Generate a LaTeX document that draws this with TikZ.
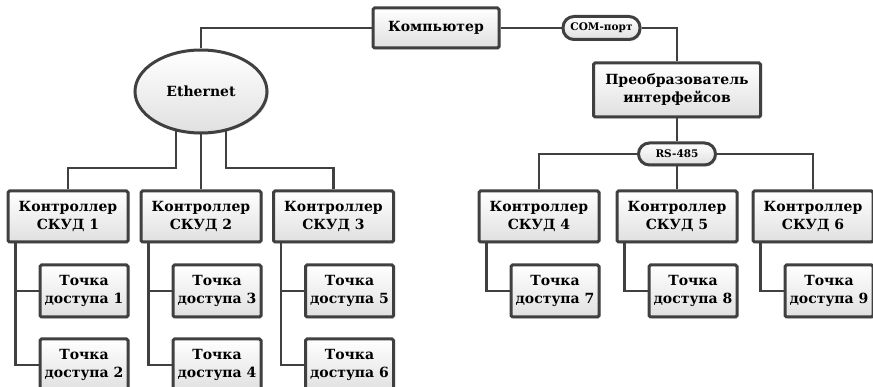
\documentclass[tikz,border=0pt]{standalone}
\usepackage{fontspec}
\setmainfont{DejaVu Serif}
\usetikzlibrary{positioning,shapes.geometric,shadows,calc}
\definecolor{edge}{HTML}{404040}
\definecolor{fillbot}{HTML}{E0E0E0}
\tikzset{
  unit/.style={draw=edge,line width=3pt,rounded corners=1.5pt,top color=white,bottom color=fillbot,
    drop shadow={shadow xshift=1.6pt,shadow yshift=-1.6pt,opacity=.25},
    minimum width=120pt,minimum height=51pt,align=center,inner sep=1pt,
    font=\fontsize{14}{18}\selectfont\bfseries},
  point/.style={unit,minimum width=88pt,minimum height=52pt},
  port/.style={unit,rounded corners=11pt,minimum width=77pt,minimum height=23pt,
    font=\fontsize{10.5}{12}\selectfont\bfseries},
  net/.style={unit,ellipse,minimum width=132pt,minimum height=83pt},
  wire/.style={draw=edge,line width=2.8pt}
}
\begin{document}
\begin{tikzpicture}[x=1pt,y=-1pt]
\useasboundingbox (0,0) rectangle (873,387);
% верхний уровень
\node[unit,minimum width=126pt,minimum height=40pt] (pc) at (436,28) {Компьютер};
\node[port] (com) at (601.5,28) {COM-порт};
\node[net] (eth) at (201,91.5) {Ethernet};
\node[unit,minimum width=167pt,minimum height=54pt] (conv) at (677,90) {Преобразователь\\интерфейсов};
\node[port,minimum height=22pt] (rs) at (677,154) {RS-485};
\coordinate (ebus) at (0,168);

% контроллеры
\node[unit] (k1) at (68,216.5) {Контроллер\\СКУД 1};
\node[unit] (k2) at (201,216.5) {Контроллер\\СКУД 2};
\node[unit] (k3) at (333.5,216.5) {Контроллер\\СКУД 3};
\node[unit] (k4) at (539,216.5) {Контроллер\\СКУД 4};
\node[unit] (k5) at (677,216.5) {Контроллер\\СКУД 5};
\node[unit] (k6) at (813,216.5) {Контроллер\\СКУД 6};

% точки доступа
\node[point] (t1) at (84,291) {Точка\\доступа 1};
\node[point] (t2) at (84,365) {Точка\\доступа 2};
\node[point] (t3) at (217,291) {Точка\\доступа 3};
\node[point] (t4) at (217,365) {Точка\\доступа 4};
\node[point] (t5) at (349.5,291) {Точка\\доступа 5};
\node[point] (t6) at (349.5,365) {Точка\\доступа 6};
\node[point] (t7) at (555,291) {Точка\\доступа 7};
\node[point] (t8) at (693,291) {Точка\\доступа 8};
\node[point] (t9) at (829,291) {Точка\\доступа 9};

\draw[wire] (pc.west) -| (eth.north);
\draw[wire] (pc.east) -- (com.west);
\draw[wire] (com.east) -| (conv.north);
\draw[wire] (conv.south) -- (rs.north);
\draw[wire] (eth.238) -- (eth.238 |- ebus) -| (k1.north);
\draw[wire] (eth.south) -- (k2.north);
\draw[wire] (eth.302) -- (eth.302 |- ebus) -| (k3.north);
\draw[wire] (rs.west) -| (k4.north);
\draw[wire] (rs.south) -- (k5.north);
\draw[wire] (rs.east) -| (k6.north);
\draw[wire] ($(k1.south west)+(9,0)$) |- (t1.west);
\draw[wire] ($(k1.south west)+(9,0)$) |- (t2.west);
\draw[wire] ($(k2.south west)+(9,0)$) |- (t3.west);
\draw[wire] ($(k2.south west)+(9,0)$) |- (t4.west);
\draw[wire] ($(k3.south west)+(9,0)$) |- (t5.west);
\draw[wire] ($(k3.south west)+(9,0)$) |- (t6.west);
\draw[wire] ($(k4.south west)+(9,0)$) |- (t7.west);
\draw[wire] ($(k5.south west)+(9,0)$) |- (t8.west);
\draw[wire] ($(k6.south west)+(9,0)$) |- (t9.west);
\end{tikzpicture}
\end{document}
